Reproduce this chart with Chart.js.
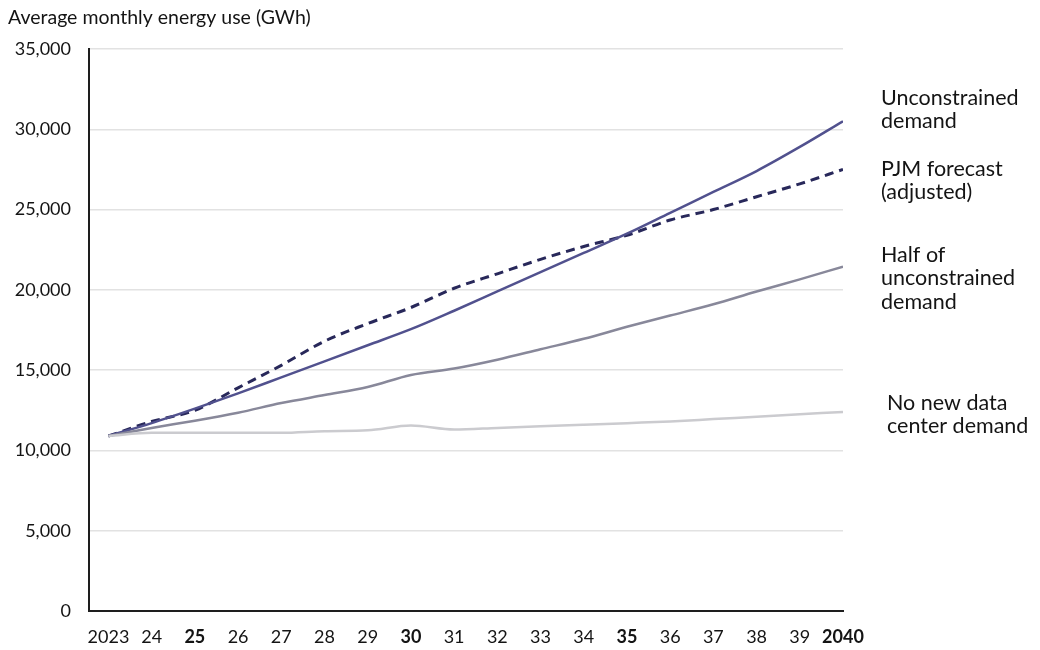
<!DOCTYPE html>
<html>
<head>
<meta charset="utf-8">
<title>Average monthly energy use</title>
<script src="https://cdn.jsdelivr.net/npm/chart.js@4.4.1/dist/chart.umd.min.js"></script>
<style>
    html, body { margin: 0; padding: 0; background: #fff; }
    #wrap { width: 1040px; height: 650px; position: relative; }
</style>
</head>
<body>
<div id="wrap"><canvas id="energyChart"></canvas></div>
<script>
// Years on the x axis and their tick text
const years = [2023, 2024, 2025, 2026, 2027, 2028, 2029, 2030, 2031, 2032, 2033, 2034, 2035, 2036, 2037, 2038, 2039, 2040];
const yearLabels = ['2023', '24', '25', '26', '27', '28', '29', '30', '31', '32', '33', '34', '35', '36', '37', '38', '39', '2040'];
const boldYears = [2025, 2030, 2035, 2040];

// Series (GWh, average monthly)
const unconstrained = [10900, 11700, 12600, 13550, 14550, 15550, 16550, 17550, 18700, 19900, 21100, 22300, 23500, 24800, 26100, 27400, 28900, 30500];
const pjmForecast   = [10900, 11800, 12500, 13900, 15300, 16800, 17900, 18900, 20100, 21000, 21900, 22700, 23400, 24350, 25000, 25800, 26600, 27500];
const halfDemand    = [10900, 11400, 11850, 12350, 12950, 13450, 13950, 14700, 15100, 15650, 16300, 16950, 17700, 18400, 19100, 19900, 20650, 21450];
const noNewDemand   = [10900, 11100, 11100, 11100, 11100, 11200, 11250, 11550, 11300, 11400, 11500, 11600, 11700, 11800, 11950, 12100, 12250, 12400];

const yTicks = [0, 5000, 10000, 15000, 20000, 25000, 30000, 35000];

const FONT = "Lato, 'Open Sans', sans-serif";

const toPoints = (vals) => years.map((yr, i) => ({ x: yr, y: vals[i] }));

// Right-hand series labels + y axis caption
const sideLabels = {
    id: 'sideLabels',
    afterDraw(chart) {
        const { ctx } = chart;
        ctx.save();
        ctx.fillStyle = '#141414';
        ctx.textBaseline = 'middle';
        ctx.textAlign = 'left';
        ctx.font = "19.5px " + FONT;
        ctx.fillText('Average monthly energy use (GWh)', 8, 18);

        ctx.font = "21.5px " + FONT;
        const blocks = [
            { x: 881, y: 98,  lines: ['Unconstrained', 'demand'] },
            { x: 881, y: 169, lines: ['PJM forecast', '(adjusted)'] },
            { x: 881, y: 255, lines: ['Half of', 'unconstrained', 'demand'] },
            { x: 887, y: 403, lines: ['No new data', 'center demand'] }
        ];
        blocks.forEach(b => {
            b.lines.forEach((t, i) => ctx.fillText(t, b.x, b.y + i * 23.5));
        });
        ctx.restore();
    }
};

new Chart(document.getElementById('energyChart').getContext('2d'), {
    type: 'line',
    data: {
        datasets: [
            {
                label: 'No new data center demand',
                data: toPoints(noNewDemand),
                borderColor: '#cbcbcf',
                borderWidth: 2.5
            },
            {
                label: 'Half of unconstrained demand',
                data: toPoints(halfDemand),
                borderColor: '#88889a',
                borderWidth: 2.5
            },
            {
                label: 'Unconstrained demand',
                data: toPoints(unconstrained),
                borderColor: '#51518e',
                borderWidth: 2.5
            },
            {
                label: 'PJM forecast (adjusted)',
                data: toPoints(pjmForecast),
                borderColor: '#28285a',
                borderWidth: 3,
                borderDash: [9, 6]
            }
        ]
    },
    options: {
        responsive: true,
        maintainAspectRatio: false,
        animation: false,
        layout: { padding: { top: 49, right: 197, bottom: 0, left: 0 } },
        elements: {
            point: { radius: 0 },
            line: { cubicInterpolationMode: 'monotone', fill: false }
        },
        plugins: {
            legend: { display: false },
            tooltip: { enabled: false }
        },
        scales: {
            x: {
                type: 'linear',
                min: 2022.55,
                max: 2040,
                afterBuildTicks: (scale) => { scale.ticks = years.map(v => ({ value: v })); },
                afterFit: (scale) => { scale.height = 39; },
                grid: { display: false, drawTicks: false },
                border: { display: true, color: '#1e1e1e', width: 2 },
                ticks: {
                    padding: 15,
                    color: '#141414',
                    maxRotation: 0,
                    autoSkip: false,
                    callback: (val) => yearLabels[years.indexOf(val)],
                    font: (ctx) => ({
                        family: FONT,
                        size: 18,
                        weight: ctx.tick && boldYears.includes(ctx.tick.value) ? 'bold' : 'normal'
                    })
                }
            },
            y: {
                min: 0,
                max: 35000,
                afterBuildTicks: (scale) => { scale.ticks = yTicks.map(v => ({ value: v })); },
                afterFit: (scale) => { scale.width = 89; },
                grid: { color: '#e2e2e2', lineWidth: 1.5, drawTicks: false },
                border: { display: true, color: '#1e1e1e', width: 2 },
                ticks: {
                    padding: 18,
                    color: '#141414',
                    font: { family: FONT, size: 18 },
                    callback: (val) => Number(val).toLocaleString('en-US')
                }
            }
        }
    },
    plugins: [sideLabels]
});
</script>
</body>
</html>
